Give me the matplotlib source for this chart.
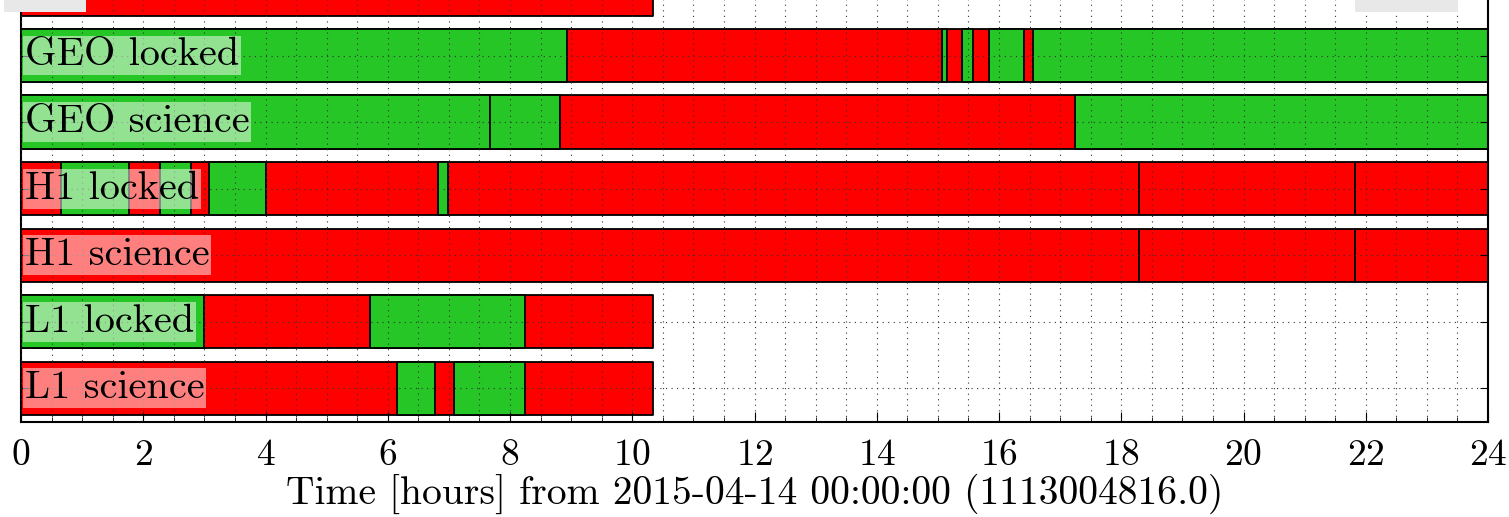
import matplotlib
matplotlib.use("Agg")
from matplotlib import pyplot as plt
from matplotlib.patches import Rectangle
from matplotlib.ticker import MultipleLocator

plt.rcParams['font.family'] = ['cmr10', 'DejaVu Serif']
plt.rcParams['axes.formatter.use_mathtext'] = True
plt.rcParams['mathtext.fontset'] = 'cm'

# rows from bottom to top (the top row is cut off in the reference)
labels = ["L1 science", "L1 locked", "H1 science", "H1 locked",
          "GEO science", "GEO locked", ""]

# known segments (red), hours
known = [
    [(0, 10.34)],
    [(0, 10.34)],
    [(0, 18.29), (18.29, 21.82), (21.82, 24)],
    [(0, 18.29), (18.29, 21.82), (21.82, 24)],
    [(0, 24)],
    [(0, 24)],
    [(0, 10.34)],
]

# active segments (green), hours
active = [
    [(6.15, 6.77), (7.08, 8.24)],
    [(0, 3.0), (5.71, 8.24)],
    [],
    [(0.66, 1.76), (2.27, 2.78), (3.07, 4.0), (6.82, 6.99)],
    [(0, 7.67), (7.67, 8.81), (17.24, 24)],
    [(0, 8.94), (15.07, 15.15), (15.40, 15.58), (15.83, 16.41), (16.55, 24)],
    [],
]

xlabel = "Time [hours] from 2015-04-14 00:00:00 (1113004816.0)"

red = "#ff0000"
green = "#25c625"

fig = plt.figure(figsize=(15.09, 5.17), dpi=100)
W, H = 1509, 517
ax = fig.add_axes([21 / W, (H - 421.5) / H, 1467 / W, 465.75 / H])

for i, lab in enumerate(labels):
    ax.broken_barh([(a, b - a) for a, b in known[i]], (i - 0.4, 0.8),
                   facecolor=red, edgecolor="black", linewidth=1.3, zorder=1)
    if active[i]:
        ax.broken_barh([(a, b - a) for a, b in active[i]], (i - 0.4, 0.8),
                       facecolor=green, edgecolor="black", linewidth=1.3, zorder=1.1)
    if lab:
        ax.text(0.06, i, lab, fontsize=29, ha="left", va="center", zorder=3,
                bbox=dict(facecolor="white", alpha=0.5, edgecolor="none", pad=1.5))

ax.set_xlim(0, 24)
ax.set_ylim(-0.5, 6.5)
ax.xaxis.set_major_locator(MultipleLocator(2))
ax.xaxis.set_minor_locator(MultipleLocator(0.5))
ax.set_yticks(range(len(labels)))
ax.set_yticklabels([])
ax.tick_params(axis="both", which="both", direction="in", top=True, right=True)
ax.tick_params(axis="x", which="major", length=7, labelsize=27, pad=12.5)
ax.tick_params(axis="x", which="minor", length=3.5)
ax.tick_params(axis="y", length=6)
ax.set_axisbelow(False)
grid_style = dict(linestyle=(0, (1, 4)), color="#333333", linewidth=0.8)
ax.grid(True, which="both", axis="x", **grid_style)
ax.grid(True, which="major", axis="y", **grid_style)
for s in ax.spines.values():
    s.set_linewidth(1.5)
ax.set_xlabel(xlabel, fontsize=28.5, va="baseline")
ax.xaxis.set_label_coords(0.5, -0.177)

# grey boxes over the top corners
for x0, w in [(4, 82), (1355, 103)]:
    fig.patches.append(Rectangle((x0 / W, (H - 12) / H), w / W, 12 / H,
                                 transform=fig.transFigure, facecolor="#e8e8e8",
                                 edgecolor="none", zorder=10))

fig.savefig("out.png", dpi=100)
